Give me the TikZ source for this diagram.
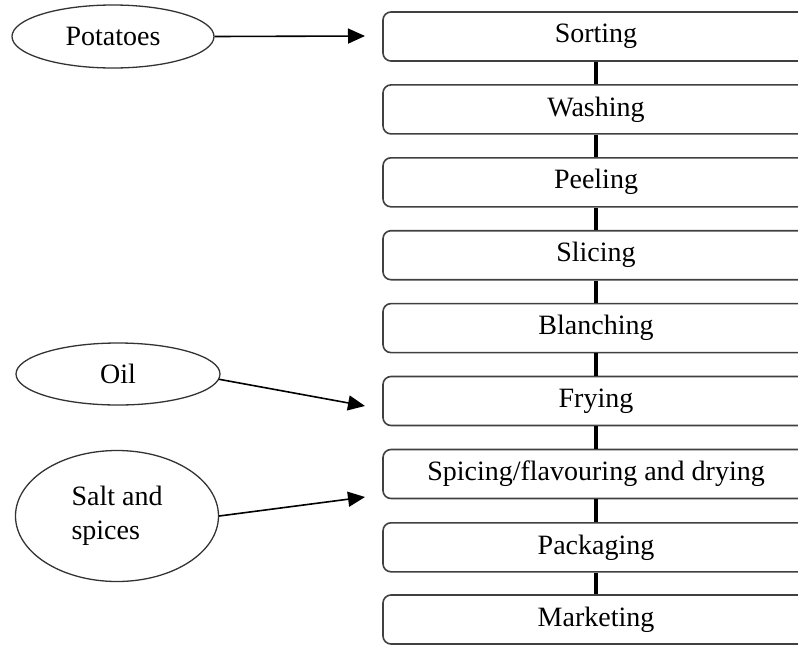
\documentclass[tikz,border=0pt]{standalone}
\usepackage{fontspec}
\setmainfont{Liberation Serif}
\usetikzlibrary{arrows.meta,shapes.geometric}
\begin{document}
\begin{tikzpicture}[x=1pt,y=-1pt,
  stepbox/.style={draw=black!75, line width=1.6pt, rounded corners=8pt,
    minimum width=426pt, minimum height=49pt, inner sep=0pt,
    font=\fontsize{28}{34}\selectfont},
  src/.style={ellipse, draw=black!80, line width=1.3pt, inner sep=0pt,
    font=\fontsize{28}{34}\selectfont},
  link/.style={line width=4.5pt},
  feed/.style={line width=1.6pt, -{Triangle[length=17pt,width=15pt]}}]
\clip (0,0) rectangle (798,646);
% process steps
\node[stepbox] (s1) at (596,36.5) {Sorting};
\node[stepbox] (s2) at (596,109.4) {Washing};
\node[stepbox] (s3) at (596,182.3) {Peeling};
\node[stepbox] (s4) at (596,255.2) {Slicing};
\node[stepbox] (s5) at (596,328.1) {Blanching};
\node[stepbox] (s6) at (596,401) {Frying};
\node[stepbox] (s7) at (596,474) {Spicing/flavouring and drying};
\node[stepbox] (s8) at (596,547.3) {Packaging};
\node[stepbox] (s9) at (596,619.5) {Marketing};
\foreach \a/\b in {s1/s2,s2/s3,s3/s4,s4/s5,s5/s6,s6/s7,s7/s8,s8/s9}
  \draw[link] (\a) -- (\b);
% inputs
\node[src, minimum width=202pt, minimum height=63pt] (pot) at (113,36.5) {Potatoes};
\node[src, minimum width=204pt, minimum height=62pt] (oil) at (118,374) {Oil};
\node[src, minimum width=203pt, minimum height=131pt, align=left] (salt) at (117,516) {Salt and\\spices};
\coordinate (potend) at (365,36);
\coordinate (oilend) at (365,406);
\coordinate (saltend) at (365,497);
\draw[feed] (pot.east) -- (potend);
\draw[feed] (oil.-3) -- (oilend);
\draw[feed] (salt.east) -- (saltend);
\end{tikzpicture}
\end{document}
